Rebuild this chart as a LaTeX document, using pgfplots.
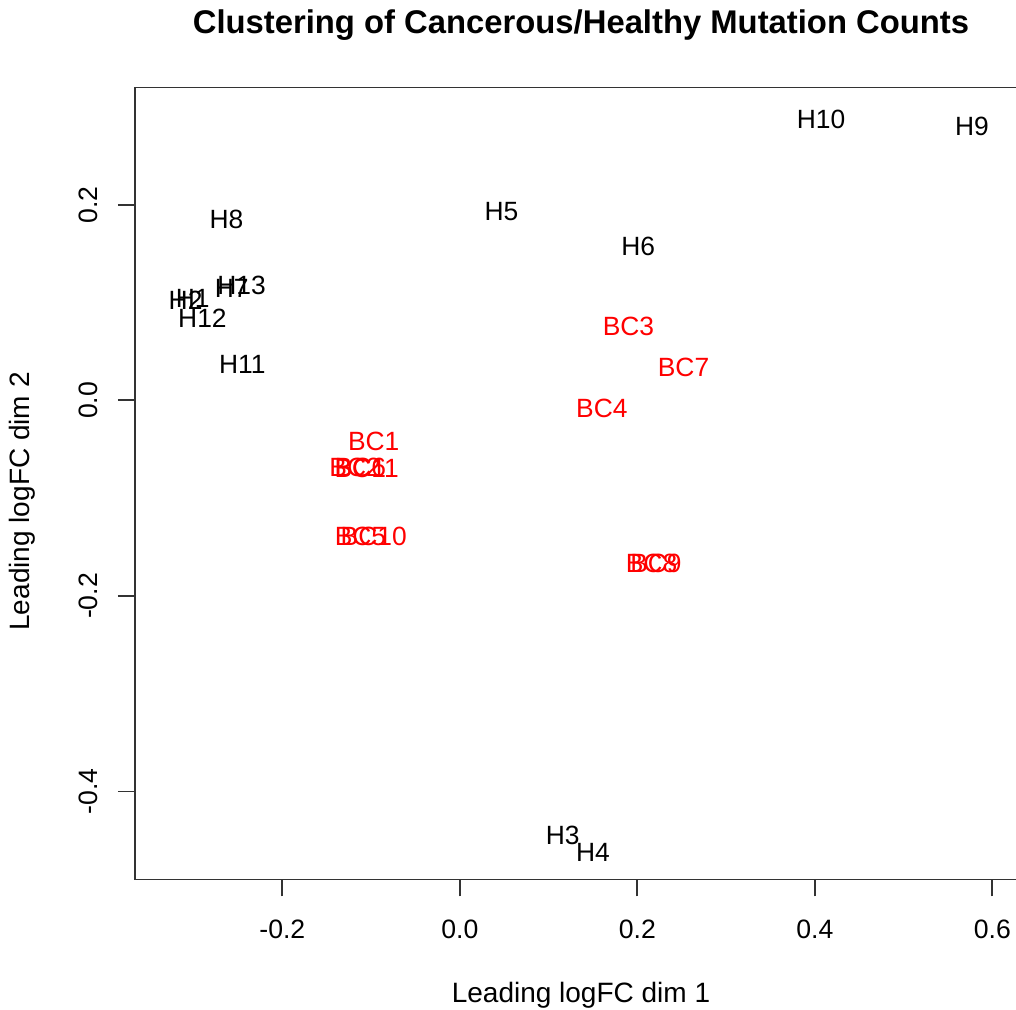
\documentclass[border=0pt]{standalone}
\usepackage{fontspec}
\setmainfont{Liberation Sans}
\usepackage{pgfplots}
\usepackage{pgfplotstable}
\pgfplotsset{compat=1.18}

% sample labels, leading logFC dims
\pgfplotstableread{
x y label
0.407 0.287 H10
0.577 0.280 H9
-0.263 0.185 H8
0.047 0.193 H5
0.201 0.157 H6
-0.257 0.115 H7
-0.246 0.118 H13
-0.301 0.104 H1
-0.309 0.102 H2
-0.290 0.084 H12
-0.245 0.037 H11
0.116 -0.445 H3
0.150 -0.462 H4
}\healthy

\pgfplotstableread{
x y label
0.190 0.076 BC3
0.252 0.034 BC7
0.160 -0.008 BC4
-0.097 -0.042 BC1
-0.118 -0.069 BC2
-0.112 -0.069 BC6
-0.105 -0.070 BC11
-0.112 -0.139 BC5
-0.097 -0.139 BC10
0.216 -0.167 BC8
0.221 -0.167 BC9
}\cancer

\begin{document}
\begin{tikzpicture}
\begin{axis}[
 name=ax,
 scale only axis,
 width=442pt, height=396pt,
 xmin=-0.366, xmax=0.63,
 ymin=-0.49, ymax=0.32,
 clip=false,
 axis line style={black!80, line width=0.9pt},
 tick style={black!80, line width=0.9pt},
 tick align=outside,
 major tick length=8.5pt,
 xtick pos=bottom, ytick pos=left,
 xtick={-0.2,0,0.2,0.4,0.6},
 xticklabels={-0.2,0.0,0.2,0.4,0.6},
 ytick={-0.4,-0.2,0,0.2},
 yticklabels={-0.4,-0.2,0.0,0.2},
 ticklabel style={font=\fontsize{13.3}{16}\selectfont},
 xticklabel style={yshift=-8pt},
 yticklabel style={xshift=-6.5pt, rotate=90, anchor=south},
 point meta=explicit symbolic,
 nodes near coords,
 every node near coord/.append style={anchor=center, font=\fontsize{13.2}{16}\selectfont},
]
\addplot[only marks, mark=none, nodes near coords style={text=black}] table[meta=label] {\healthy};
\addplot[only marks, mark=none, nodes near coords style={text=red}] table[meta=label] {\cancer};

\node[font=\fontsize{16.4}{19}\selectfont\bfseries, xshift=2pt, yshift=31pt] at (axis description cs:0.5,1) {Clustering of Cancerous/Healthy Mutation Counts};
\node[font=\fontsize{14}{17}\selectfont, xshift=2pt, yshift=-57.75pt] at (axis description cs:0.5,0) {Leading logFC dim 1};
\node[font=\fontsize{14}{17}\selectfont, xshift=-56.5pt, yshift=-9pt, rotate=90] at (axis description cs:0,0.5) {Leading logFC dim 2};
\end{axis}
\pgfresetboundingbox
\path[use as bounding box] ([shift={(-67.5pt,-65.25pt)}]ax.south west) rectangle ([shift={(440.5pt,439.75pt)}]ax.south west);
\end{tikzpicture}
\end{document}
